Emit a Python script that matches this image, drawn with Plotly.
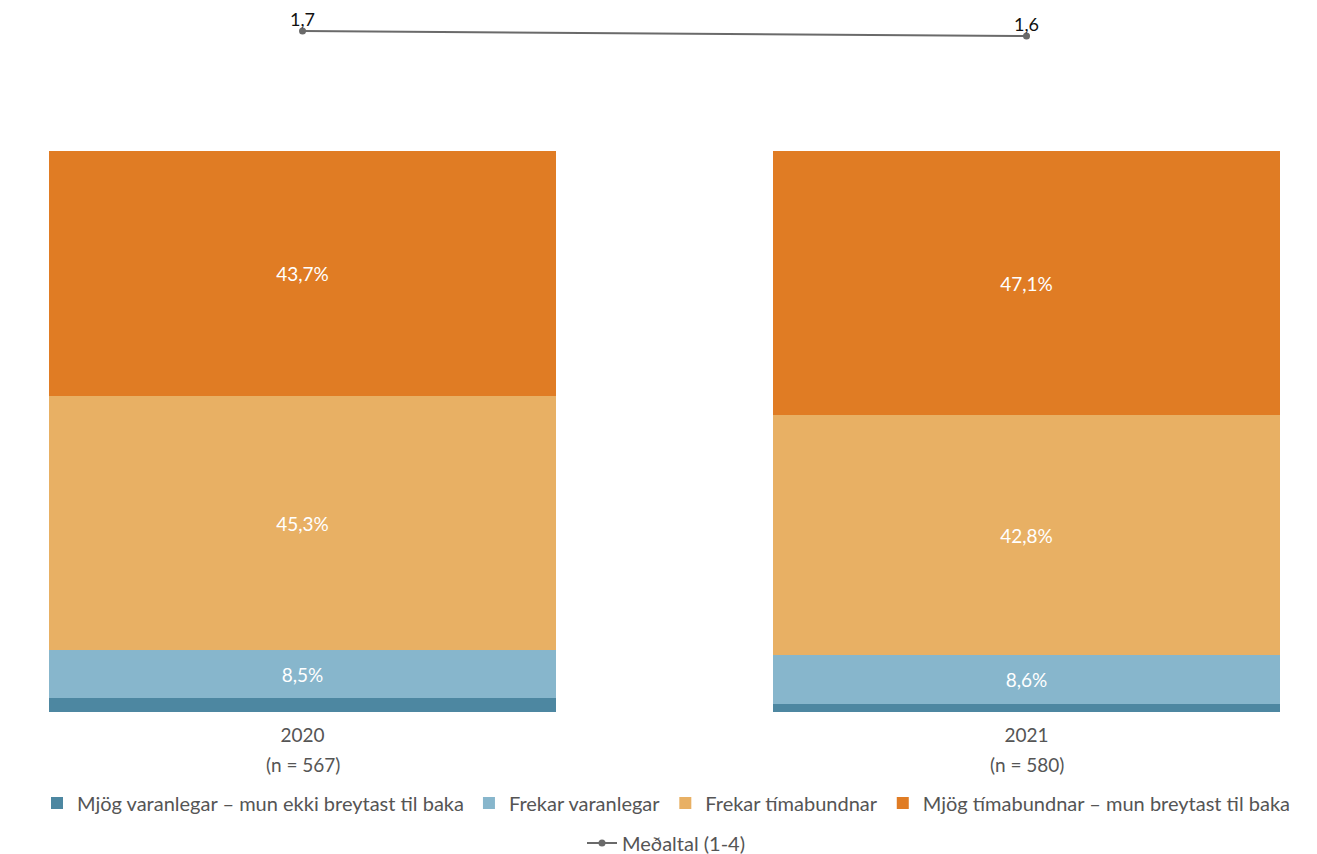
import plotly.graph_objects as go

years = ["2020", "2021"]
n_labels = ["(n = 567)", "(n = 580)"]
series_names = [
    "Mjög varanlegar – mun ekki breytast til baka",
    "Frekar varanlegar",
    "Frekar tímabundnar",
    "Mjög tímabundnar – mun breytast til baka",
]
values = [
    [2.5, 1.5],
    [8.5, 8.6],
    [45.3, 42.8],
    [43.7, 47.1],
]
mean_name = "Meðaltal (1-4)"
mean_values = [1.7, 1.6]

colors = ["#4d87a1", "#87b6cc", "#e8b064", "#e07c24"]
font_family = "Lato, 'Open Sans', sans-serif"


def fmt(v):
    return f"{v:.1f}".replace(".", ",")


fig = go.Figure()

for name, vals, color in zip(series_names, values, colors):
    fig.add_trace(go.Bar(
        name=name,
        x=years,
        y=vals,
        marker=dict(color=color, line_width=0),
        text=[fmt(v) + "%" if v >= 5 else "" for v in vals],
        textposition="inside",
        insidetextanchor="middle",
        textfont=dict(color="#ffffff", size=19),
        hoverinfo="skip",
        legend="legend",
    ))

fig.add_trace(go.Scatter(
    name=mean_name,
    x=years,
    y=mean_values,
    yaxis="y2",
    mode="lines+markers",
    line=dict(color="#6a6a6a", width=2),
    marker=dict(color="#6a6a6a", size=7),
    cliponaxis=False,
    legend="legend2",
))

# mean value labels, sitting just above the points
for i, v in enumerate(mean_values):
    fig.add_annotation(
        x=i, xref="x",
        y=v, yref="y2",
        text=fmt(v),
        showarrow=False,
        yanchor="middle",
        yshift=12,
        font=dict(size=18, color="#111111"),
    )

# second line of the category labels
for i, n in enumerate(n_labels):
    fig.add_annotation(
        x=i, xref="x",
        y=-0.0756, yref="paper",
        text=n,
        showarrow=False,
        yanchor="middle",
        font=dict(size=19, color="#555555"),
    )

fig.update_layout(
    width=1317,
    height=854,
    margin=dict(l=10, r=10, t=3, b=150, autoexpand=False),
    barmode="stack",
    bargap=0.3,
    plot_bgcolor="white",
    paper_bgcolor="white",
    font=dict(family=font_family, size=19, color="#555555"),
    showlegend=True,
    legend=dict(
        orientation="h",
        x=0.5, xanchor="center",
        y=-0.1298, yanchor="middle",
        font=dict(size=20, color="#555555"),
        itemwidth=30,
        traceorder="normal",
    ),
    legend2=dict(
        orientation="h",
        x=0.5, xanchor="center",
        y=-0.1869, yanchor="middle",
        font=dict(size=20, color="#555555"),
        itemwidth=30,
    ),
    xaxis=dict(
        type="category",
        range=[-0.393, 1.3985],
        showgrid=False,
        showline=False,
        ticks="",
        ticklabelstandoff=10,
        tickfont=dict(size=19, color="#555555"),
    ),
    yaxis=dict(
        domain=[0, 0.8003],
        range=[0, 100],
        visible=False,
    ),
    yaxis2=dict(
        domain=[0.85, 1],
        range=[0, 2.1],
        visible=False,
    ),
)

fig.write_html("out.html")
